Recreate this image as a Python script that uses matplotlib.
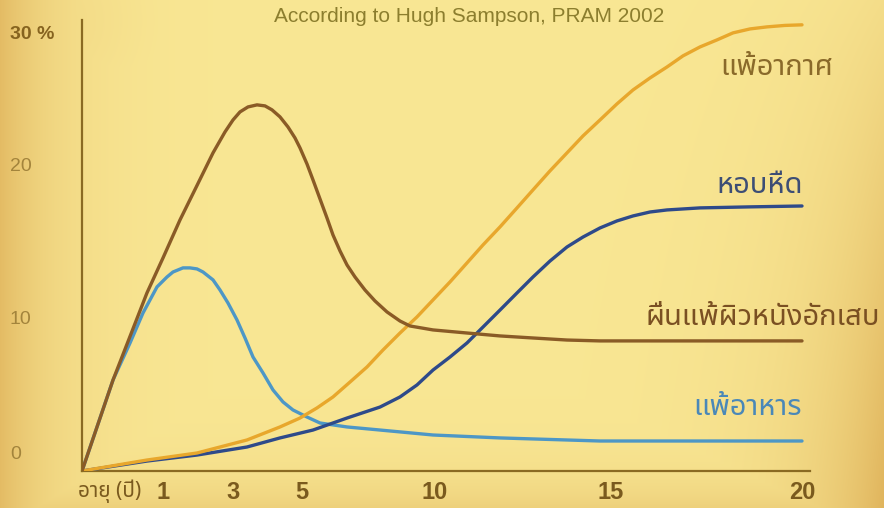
import numpy as np
import matplotlib
matplotlib.use('Agg')
import matplotlib.pyplot as plt
from matplotlib.transforms import ScaledTranslation, blended_transform_factory

# prevalence (%) by age (years)
eczema_age = [0, 0.383, 0.802, 1.0, 1.486, 1.971, 2.429, 2.771, 3.0, 3.203, 3.435, 3.696,
              3.928, 4.130, 4.362, 4.594, 4.797, 4.942, 5.188, 5.414, 5.677, 5.940, 6.165,
              6.429, 6.692, 6.992, 7.368, 7.744, 8.195, 8.684, 9.060, 9.925, 10.909, 11.847,
              12.784, 13.750, 14.688, 16.021, 17.330, 18.639, 20]
eczema_pct = [0, 6.22, 12.17, 14.56, 17.16, 19.51, 21.74, 23.17, 23.99, 24.54, 24.88, 25.02,
              24.95, 24.68, 24.20, 23.51, 22.76, 22.08, 20.98, 19.89, 18.59, 17.29, 16.13,
              15.04, 14.08, 13.26, 12.37, 11.62, 10.87, 10.25, 9.91, 9.64, 9.43, 9.23,
              9.09, 8.95, 8.89, 8.89, 8.89, 8.89, 8.89]

food_age = [0, 0.383, 0.593, 0.753, 0.926, 1.114, 1.286, 1.571, 1.771, 1.971, 2.143, 2.429,
            2.629, 2.857, 3.116, 3.348, 3.580, 3.870, 4.159, 4.449, 4.739, 5.188, 5.677,
            6.692, 7.932, 9.925, 11.847, 14.688, 17.330, 20]
food_pct = [0, 6.22, 8.75, 10.80, 12.58, 13.26, 13.60, 13.88, 13.88, 13.81, 13.60, 13.06,
            12.37, 11.48, 10.32, 9.09, 7.79, 6.70, 5.54, 4.72, 4.17, 3.69, 3.28,
            3.01, 2.80, 2.46, 2.26, 2.05, 2.05, 2.05]

air_age = [0, 0.802, 1.971, 3.406, 4.362, 4.942, 5.564, 6.165, 6.805, 7.444, 8.045, 8.684,
           9.323, 9.925, 10.426, 10.909, 11.364, 11.847, 12.330, 12.784, 13.267, 13.750,
           14.205, 14.688, 15.157, 15.576, 16.021, 16.466, 16.885, 17.330, 17.775, 18.194,
           18.639, 19.084, 19.555, 20]
air_pct = [0, 0.75, 1.23, 2.12, 3.01, 3.62, 4.31, 5.06, 6.08, 7.11, 8.27, 9.43,
           10.53, 11.69, 12.92, 14.22, 15.45, 16.68, 17.98, 19.21, 20.51, 21.74,
           22.90, 23.99, 25.09, 26.04, 26.86, 27.61, 28.37, 28.98, 29.46, 29.94,
           30.21, 30.35, 30.45, 30.49]

asthma_age = [0, 0.802, 1.971, 3.406, 4.362, 5.414, 6.692, 7.932, 8.684, 9.323, 9.925, 10.426,
              10.909, 11.364, 11.847, 12.330, 12.784, 13.267, 13.750, 14.205, 14.688, 15.157,
              15.576, 16.021, 16.466, 17.330, 18.639, 20]
asthma_pct = [0, 0.68, 1.09, 1.64, 2.26, 2.80, 3.62, 4.37, 5.06, 5.88, 6.90, 7.79,
              8.75, 9.84, 11.00, 12.17, 13.26, 14.35, 15.31, 15.99, 16.61, 17.09,
              17.43, 17.70, 17.84, 17.98, 18.05, 18.11]

x_ticks = [1, 3, 5, 10, 15, 20]
y_ticks = [0, 10, 20, 30]
y_labels = ['0', '10', '20', '30 %']

label_air = 'แพ้อากาศ'
label_asthma = 'หอบหืด'
label_eczema = 'ผื่นแพ้ผิวหนังอักเสบ'
label_food = 'แพ้อาหาร'
label_age = 'อายุ (ปี)'
source = 'According to Hugh Sampson, PRAM 2002'

THAI = ['Noto Sans Thai', 'Liberation Sans', 'DejaVu Sans']
LATIN = ['Liberation Sans', 'DejaVu Sans']

# the age axis of the original is hand drawn and not linear: spacing of the knots (px)
knot_age = [-5, 0, 1, 3, 5, 10, 15, 20, 30]
knot_pos = [-405, 0, 81, 151, 220, 353, 529, 720, 1102]


def fwd(a):
    return np.interp(a, knot_age, knot_pos)


def inv(p):
    return np.interp(p, knot_pos, knot_age)


W, H = 884, 508
fig = plt.figure(figsize=(W / 100, H / 100), dpi=100)

# golden background
bg = fig.add_axes([0, 0, 1, 1], zorder=-5)
yy, xx = np.mgrid[0:H, 0:W]
w = np.maximum.reduce([
    0.85 * np.exp(-xx / 55.0),
    np.exp(-(W - xx) / 80.0) * (0.2 + 0.8 * yy / H),
    0.45 * np.exp(-(H - yy) / 35.0),
    0.25 * np.exp(-((xx - 40) ** 2 + (yy - 20) ** 2) / 9000.0),
])
light = np.array([249, 231, 148]) / 255
dark = np.array([224, 180, 92]) / 255
img = light[None, None, :] * (1 - w[..., None]) + dark[None, None, :] * w[..., None]
bg.imshow(img, aspect='auto', interpolation='bilinear')
bg.axis('off')

ax = fig.add_axes([82 / W, 1 - 471 / H, (810 - 82) / W, (471 - 20) / H])
ax.set_facecolor('none')
ax.set_xscale('function', functions=(fwd, inv))

lw = 2.4
ax.plot(food_age, food_pct, color='#4d97c6', lw=lw, solid_capstyle='round',
        solid_joinstyle='round', zorder=2)
ax.plot(asthma_age, asthma_pct, color='#2e4a8a', lw=lw, solid_capstyle='round',
        solid_joinstyle='round', zorder=3)
ax.plot(air_age, air_pct, color='#e8a72c', lw=lw, solid_capstyle='round',
        solid_joinstyle='round', zorder=4)
ax.plot(eczema_age, eczema_pct, color='#8a5b26', lw=lw, solid_capstyle='round',
        solid_joinstyle='round', zorder=5)

ax.set_xlim(0, inv(728))
ax.set_ylim(0, 30 + 12 / 14.63)

for side in ['top', 'right']:
    ax.spines[side].set_visible(False)
for side in ['left', 'bottom']:
    ax.spines[side].set_color('#8a6a22')
    ax.spines[side].set_linewidth(1.6)

ax.set_xticks(x_ticks)
ax.set_xticklabels([str(t) for t in x_ticks], family=LATIN, fontsize=17,
                   fontweight='bold', color='#7a5a1e')
ax.tick_params(axis='x', length=0, pad=7)
ax.xaxis.set_minor_locator(plt.NullLocator())

ax.set_yticks(y_ticks)
ax.set_yticklabels(y_labels, fontsize=14, color='#a3843c', family=LATIN)
ax.tick_params(axis='y', length=0, pad=52)
y_shift = [13, 5, 10, 0]
for lab, dy in zip(ax.get_yticklabels(), y_shift):
    lab.set_horizontalalignment('left')
    lab.set_transform(lab.get_transform() + ScaledTranslation(0, dy / 72, fig.dpi_scale_trans))
top = ax.get_yticklabels()[-1]
top.set_fontweight('bold')
top.set_color('#86631f')

# "age (years)" sits at the origin, next to the tick numbers
trans = blended_transform_factory(ax.transData, ax.transAxes)
ax.text(0, 0, label_age, transform=trans + ScaledTranslation(-3 / 72, -6 / 72, fig.dpi_scale_trans),
        ha='left', va='top', family=THAI, fontsize=15, fontweight='medium', color='#7a5a1e')

fig.text(469 / W, 1 - 17 / H, source, ha='center', va='center', fontsize=15,
         color='#8c7e2e', family=LATIN)

# series names at the right
names = [(label_air, 833, 75, '#8a6a2a'),
         (label_asthma, 803, 193, '#3d4e75'),
         (label_eczema, 880, 325, '#7a5022'),
         (label_food, 802, 415, '#4a88b8')]
for txt, x, y, c in names:
    fig.text(x / W, 1 - y / H, txt, ha='right', va='baseline', fontsize=21,
             fontweight='medium', color=c, family=THAI)

fig.savefig('out.png', dpi=100)
